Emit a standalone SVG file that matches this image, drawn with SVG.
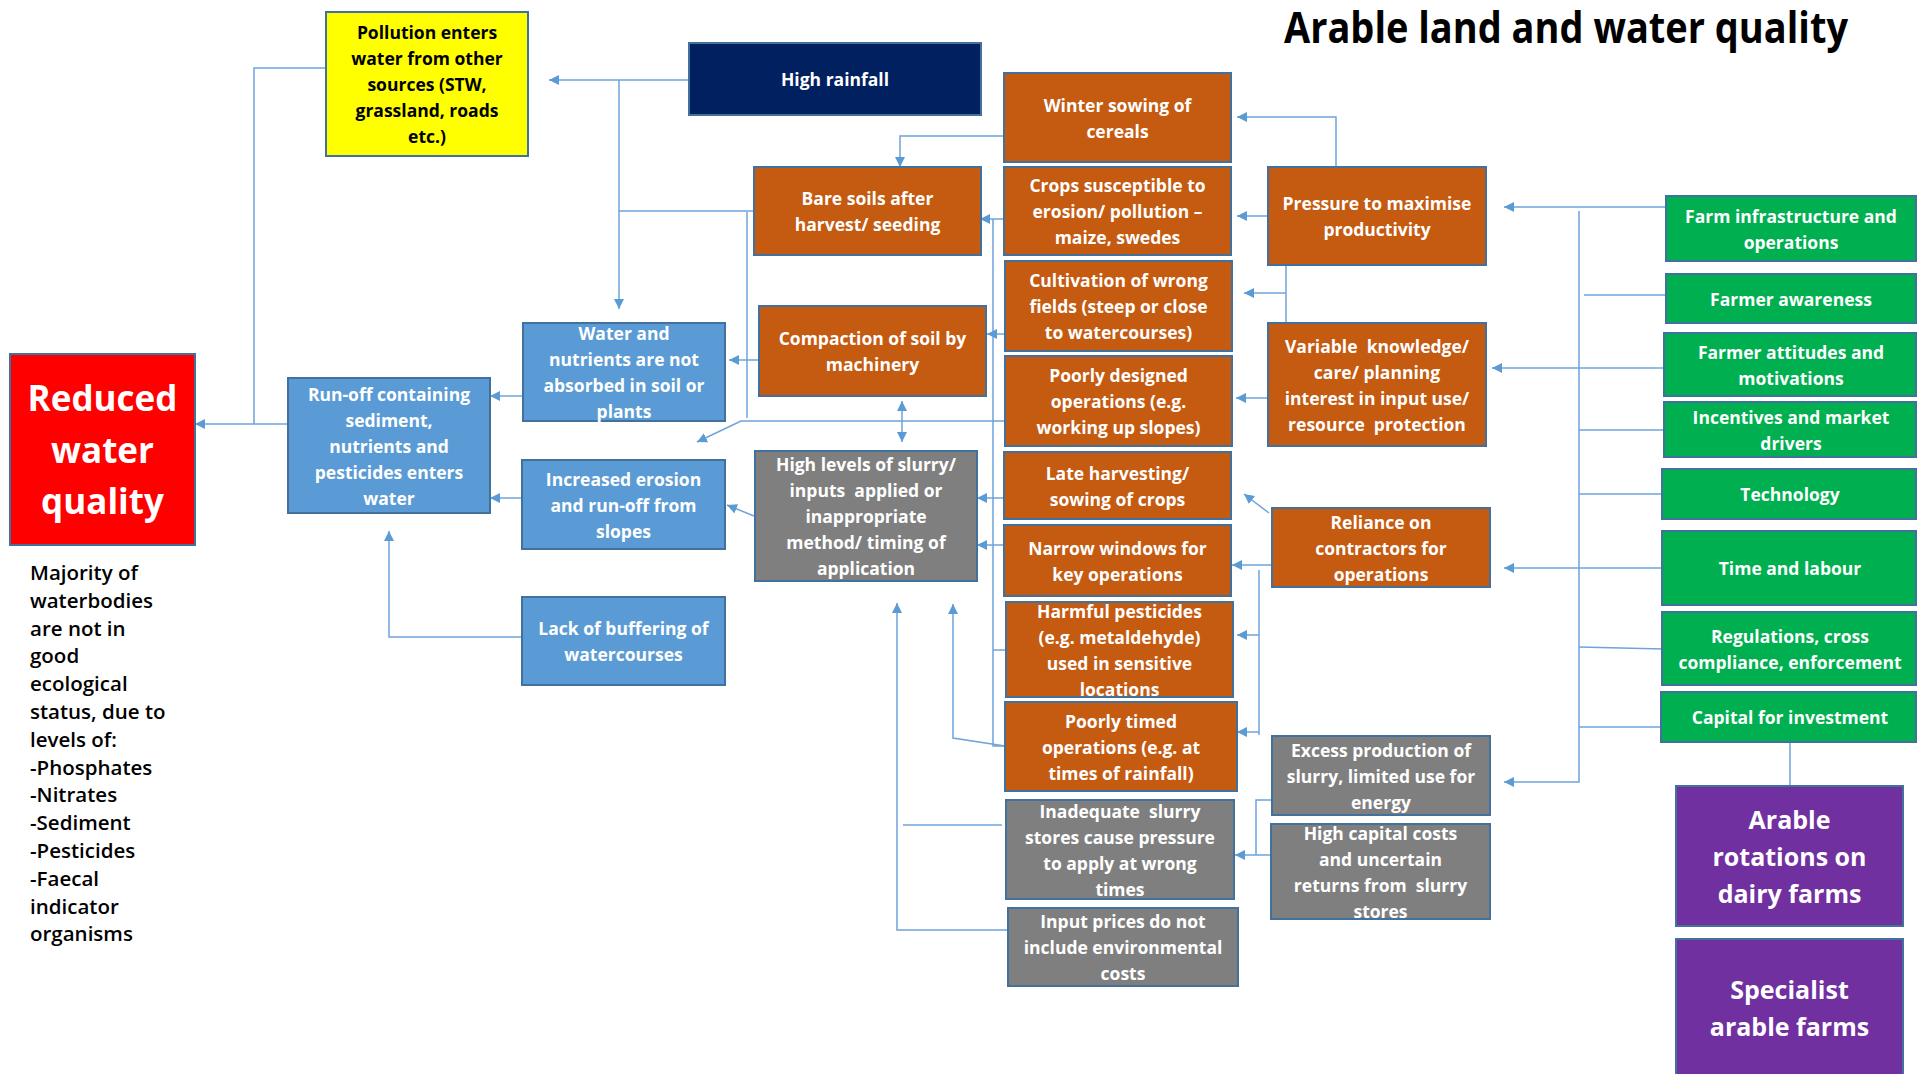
<svg xmlns="http://www.w3.org/2000/svg" width="1919" height="1074" viewBox="0 0 1919 1074">
<defs>
<marker id="ah" viewBox="0 0 10 10" refX="10" refY="5" markerWidth="10" markerHeight="10" markerUnits="userSpaceOnUse" orient="auto-start-reverse">
<path d="M0,0 L10,5 L0,10 z" fill="#5B9BD5"/>
</marker>
<style>
.b{stroke:#41719C;stroke-width:2}
.or{fill:#C55A11}.bl{fill:#5B9BD5}.gr{fill:#7F7F7F}.gn{fill:#00B050}.pu{fill:#7030A0}
.t{font-family:"Open Sans","Liberation Sans",sans-serif;font-weight:700;font-size:17.5px;fill:#fff;text-anchor:middle;white-space:pre}
.c path{fill:none;stroke:#6FA3DA;stroke-width:1.5}
.a{marker-end:url(#ah)}
</style>
</defs>
<rect width="1919" height="1074" fill="#fff"/>
<text x="1284" y="43" textLength="564" lengthAdjust="spacingAndGlyphs" style="font-family:'Open Sans','Liberation Sans',sans-serif;font-weight:700;font-size:43px;fill:#000">Arable land and water quality</text>
<text style="font-family:'Open Sans','Liberation Sans',sans-serif;font-weight:600;font-size:20.5px;fill:#000">
<tspan x="30" y="580">Majority of</tspan><tspan x="30" y="607.8">waterbodies</tspan><tspan x="30" y="635.6">are not in</tspan><tspan x="30" y="663.4">good</tspan><tspan x="30" y="691.2">ecological</tspan><tspan x="30" y="719">status, due to</tspan><tspan x="30" y="746.8">levels of:</tspan><tspan x="30" y="774.6">-Phosphates</tspan><tspan x="30" y="802.4">-Nitrates</tspan><tspan x="30" y="830.2">-Sediment</tspan><tspan x="30" y="858">-Pesticides</tspan><tspan x="30" y="885.8">-Faecal</tspan><tspan x="30" y="913.6">indicator</tspan><tspan x="30" y="941.4">organisms</tspan>
</text>
<g class="c" id="connectors">
<path class="a" d="M689,80 H549"/>
<path class="a" d="M619,80 V309"/>
<path d="M619,211 H754"/>
<path d="M747,212 V418"/>
<path class="a" d="M1005,421 H741 L697,442"/>
<path class="a" d="M1004,136 H900 V167"/>
<path class="a" d="M1004,219 H980"/>
<path d="M1005,746 H993 V219"/>
<path d="M993,650 H1006"/>
<path class="a" d="M1005,746 L953,738 V604"/>
<path class="a" d="M1015,334 H987"/>
<path class="a" d="M759,360 H729"/>
<path class="a" d="M902,420 V442"/>
<path class="a" d="M902,420 V401"/>
<path class="a" d="M1008,498 H977"/>
<path class="a" d="M1010,545 H977"/>
<path class="a" d="M754,516 L727,505"/>
<path class="a" d="M1007,930 H897 V603"/>
<path d="M1002,825 H903"/>
<path class="a" d="M1336,167 V117 H1237"/>
<path class="a" d="M1268,216 H1237"/>
<path d="M1286,265 V323"/>
<path class="a" d="M1286,293 H1244"/>
<path class="a" d="M1268,398 H1236"/>
<path class="a" d="M1667,207 H1504"/>
<path class="a" d="M1579,211 V782 H1504"/>
<path d="M1584,295 H1678"/>
<path d="M1579,430 H1665"/>
<path d="M1579,494 H1663"/>
<path d="M1579,647 L1663,649"/>
<path d="M1579,727 H1668"/>
<path class="a" d="M1663,368 H1492"/>
<path class="a" d="M1663,568 H1504"/>
<path class="a" d="M1269,513 L1244,494"/>
<path class="a" d="M1272,565 H1232"/>
<path d="M1259,570 V735"/>
<path class="a" d="M1259,635 H1237"/>
<path class="a" d="M1259,732 H1237"/>
<path d="M1272,800 H1256 V855"/>
<path class="a" d="M1277,855 H1235"/>
<path d="M1790,742 V786"/>
<path class="a" d="M288,424 H195"/>
<path d="M326,68 H254 V424"/>
<path class="a" d="M523,396 H490"/>
<path class="a" d="M522,498 H490"/>
<path class="a" d="M522,637 H389 V531"/>
</g>
<g id="pollution"><rect class="b" x="326" y="12" width="202" height="144" fill="#FFFF00"/><text class="t" style="fill:#000"><tspan x="427" y="39">Pollution enters</tspan><tspan x="427" y="65">water from other</tspan><tspan x="427" y="91">sources (STW,</tspan><tspan x="427" y="117">grassland, roads</tspan><tspan x="427" y="143">etc.)</tspan></text></g>
<g id="rainfall"><rect class="b" x="689" y="43" width="292" height="72" fill="#002060"/><text class="t"><tspan x="835" y="86">High rainfall</tspan></text></g>
<g id="winter"><rect class="b or" x="1004" y="73" width="227" height="89"/><text class="t"><tspan x="1117.5" y="111.5">Winter sowing of</tspan><tspan x="1117.5" y="137.5">cereals</tspan></text></g>
<g id="bare"><rect class="b or" x="754" y="167" width="227" height="88"/><text class="t"><tspan x="867.5" y="205">Bare soils after</tspan><tspan x="867.5" y="231">harvest/ seeding</tspan></text></g>
<g id="crops"><rect class="b or" x="1004" y="167" width="227" height="88"/><text class="t"><tspan x="1117.5" y="192">Crops susceptible to</tspan><tspan x="1117.5" y="218">erosion/ pollution –</tspan><tspan x="1117.5" y="244">maize, swedes</tspan></text></g>
<g id="pressure"><rect class="b or" x="1268" y="167" width="218" height="98"/><text class="t"><tspan x="1377" y="210">Pressure to maximise</tspan><tspan x="1377" y="236">productivity</tspan></text></g>
<g id="cultivation"><rect class="b or" x="1005" y="261" width="227" height="90"/><text class="t"><tspan x="1118.5" y="287">Cultivation of wrong</tspan><tspan x="1118.5" y="313">fields (steep or close</tspan><tspan x="1118.5" y="339">to watercourses)</tspan></text></g>
<g id="compaction"><rect class="b or" x="759" y="306" width="227" height="90"/><text class="t"><tspan x="872.5" y="345">Compaction of soil by</tspan><tspan x="872.5" y="371">machinery</tspan></text></g>
<g id="waternutrients"><rect class="b bl" x="523" y="323" width="202" height="98"/><text class="t"><tspan x="624" y="340">Water and</tspan><tspan x="624" y="366">nutrients are not</tspan><tspan x="624" y="392">absorbed in soil or</tspan><tspan x="624" y="418">plants</tspan></text></g>
<g id="poorlydesigned"><rect class="b or" x="1005" y="356" width="227" height="90"/><text class="t"><tspan x="1118.5" y="382">Poorly designed</tspan><tspan x="1118.5" y="408">operations (e.g.</tspan><tspan x="1118.5" y="434">working up slopes)</tspan></text></g>
<g id="variable"><rect class="b or" x="1268" y="323" width="218" height="123"/><text class="t"><tspan x="1377" y="352.5">Variable  knowledge/</tspan><tspan x="1377" y="378.5">care/ planning</tspan><tspan x="1377" y="404.5">interest in input use/</tspan><tspan x="1377" y="430.5">resource  protection</tspan></text></g>
<g id="reduced"><rect class="b" x="10" y="354" width="185" height="191" fill="#FF0000"/><text class="t" style="font-size:35px"><tspan x="102.5" y="411">Reduced</tspan><tspan x="102.5" y="462.5">water</tspan><tspan x="102.5" y="514">quality</tspan></text></g>
<g id="runoff"><rect class="b bl" x="288" y="378" width="202" height="135"/><text class="t"><tspan x="389" y="400.5">Run-off containing</tspan><tspan x="389" y="426.5">sediment,</tspan><tspan x="389" y="452.5">nutrients and</tspan><tspan x="389" y="478.5">pesticides enters</tspan><tspan x="389" y="504.5">water</tspan></text></g>
<g id="erosion"><rect class="b bl" x="522" y="460" width="203" height="89"/><text class="t"><tspan x="623.5" y="485.5">Increased erosion</tspan><tspan x="623.5" y="511.5">and run-off from</tspan><tspan x="623.5" y="537.5">slopes</tspan></text></g>
<g id="highlevels"><rect class="b gr" x="755" y="451" width="222" height="130"/><text class="t"><tspan x="866" y="471">High levels of slurry/</tspan><tspan x="866" y="497">inputs  applied or</tspan><tspan x="866" y="523">inappropriate</tspan><tspan x="866" y="549">method/ timing of</tspan><tspan x="866" y="575">application</tspan></text></g>
<g id="late"><rect class="b or" x="1004" y="452" width="227" height="67"/><text class="t"><tspan x="1117.5" y="479.5">Late harvesting/</tspan><tspan x="1117.5" y="505.5">sowing of crops</tspan></text></g>
<g id="narrow"><rect class="b or" x="1004" y="525" width="227" height="71"/><text class="t"><tspan x="1117.5" y="554.5">Narrow windows for</tspan><tspan x="1117.5" y="580.5">key operations</tspan></text></g>
<g id="reliance"><rect class="b or" x="1272" y="508" width="218" height="79"/><text class="t"><tspan x="1381" y="528.5">Reliance on</tspan><tspan x="1381" y="554.5">contractors for</tspan><tspan x="1381" y="580.5">operations</tspan></text></g>
<g id="buffering"><rect class="b bl" x="522" y="597" width="203" height="88"/><text class="t"><tspan x="623.5" y="635">Lack of buffering of</tspan><tspan x="623.5" y="661">watercourses</tspan></text></g>
<g id="harmful"><rect class="b or" x="1006" y="602" width="227" height="95"/><text class="t"><tspan x="1119.5" y="617.5">Harmful pesticides</tspan><tspan x="1119.5" y="643.5">(e.g. metaldehyde)</tspan><tspan x="1119.5" y="669.5">used in sensitive</tspan><tspan x="1119.5" y="695.5">locations</tspan></text></g>
<g id="poorlytimed"><rect class="b or" x="1005" y="702" width="232" height="89"/><text class="t"><tspan x="1121" y="727.5">Poorly timed</tspan><tspan x="1121" y="753.5">operations (e.g. at</tspan><tspan x="1121" y="779.5">times of rainfall)</tspan></text></g>
<g id="excess"><rect class="b gr" x="1272" y="736" width="218" height="79"/><text class="t"><tspan x="1381" y="756.5">Excess production of</tspan><tspan x="1381" y="782.5">slurry, limited use for</tspan><tspan x="1381" y="808.5">energy</tspan></text></g>
<g id="inadequate"><rect class="b gr" x="1006" y="800" width="228" height="99"/><text class="t"><tspan x="1120" y="817.5">Inadequate  slurry</tspan><tspan x="1120" y="843.5">stores cause pressure</tspan><tspan x="1120" y="869.5">to apply at wrong</tspan><tspan x="1120" y="895.5">times</tspan></text></g>
<g id="capitalcosts"><rect class="b gr" x="1271" y="824" width="219" height="95"/><text class="t"><tspan x="1380.5" y="839.5">High capital costs</tspan><tspan x="1380.5" y="865.5">and uncertain</tspan><tspan x="1380.5" y="891.5">returns from  slurry</tspan><tspan x="1380.5" y="917.5">stores</tspan></text></g>
<g id="inputprices"><rect class="b gr" x="1008" y="908" width="230" height="78"/><text class="t"><tspan x="1123" y="928">Input prices do not</tspan><tspan x="1123" y="954">include environmental</tspan><tspan x="1123" y="980">costs</tspan></text></g>
<g id="farminfra"><rect class="b gn" x="1666" y="196" width="250" height="65"/><text class="t"><tspan x="1791" y="222.5">Farm infrastructure and</tspan><tspan x="1791" y="248.5">operations</tspan></text></g>
<g id="awareness"><rect class="b gn" x="1666" y="274" width="250" height="49"/><text class="t"><tspan x="1791" y="305.5">Farmer awareness</tspan></text></g>
<g id="attitudes"><rect class="b gn" x="1664" y="333" width="252" height="63"/><text class="t"><tspan x="1791" y="358.5">Farmer attitudes and</tspan><tspan x="1791" y="384.5">motivations</tspan></text></g>
<g id="incentives"><rect class="b gn" x="1664" y="402" width="252" height="55"/><text class="t"><tspan x="1791" y="423.5">Incentives and market</tspan><tspan x="1791" y="449.5">drivers</tspan></text></g>
<g id="technology"><rect class="b gn" x="1662" y="469" width="254" height="50"/><text class="t"><tspan x="1790" y="501">Technology</tspan></text></g>
<g id="timelabour"><rect class="b gn" x="1662" y="531" width="254" height="74"/><text class="t"><tspan x="1790" y="575">Time and labour</tspan></text></g>
<g id="regulations"><rect class="b gn" x="1662" y="612" width="254" height="73"/><text class="t"><tspan x="1790" y="642.5">Regulations, cross</tspan><tspan x="1790" y="668.5">compliance, enforcement</tspan></text></g>
<g id="capital"><rect class="b gn" x="1661" y="692" width="255" height="50"/><text class="t"><tspan x="1790" y="724">Capital for investment</tspan></text></g>
<g id="arablerot"><rect class="b pu" x="1676" y="786" width="227" height="140"/><text class="t" style="font-size:25px"><tspan x="1789.5" y="829">Arable</tspan><tspan x="1789.5" y="866">rotations on</tspan><tspan x="1789.5" y="903">dairy farms</tspan></text></g>
<g id="specialist"><rect class="b pu" x="1676" y="939" width="227" height="145"/><text class="t" style="font-size:25px"><tspan x="1789.5" y="999">Specialist</tspan><tspan x="1789.5" y="1036">arable farms</tspan></text></g>
</svg>
